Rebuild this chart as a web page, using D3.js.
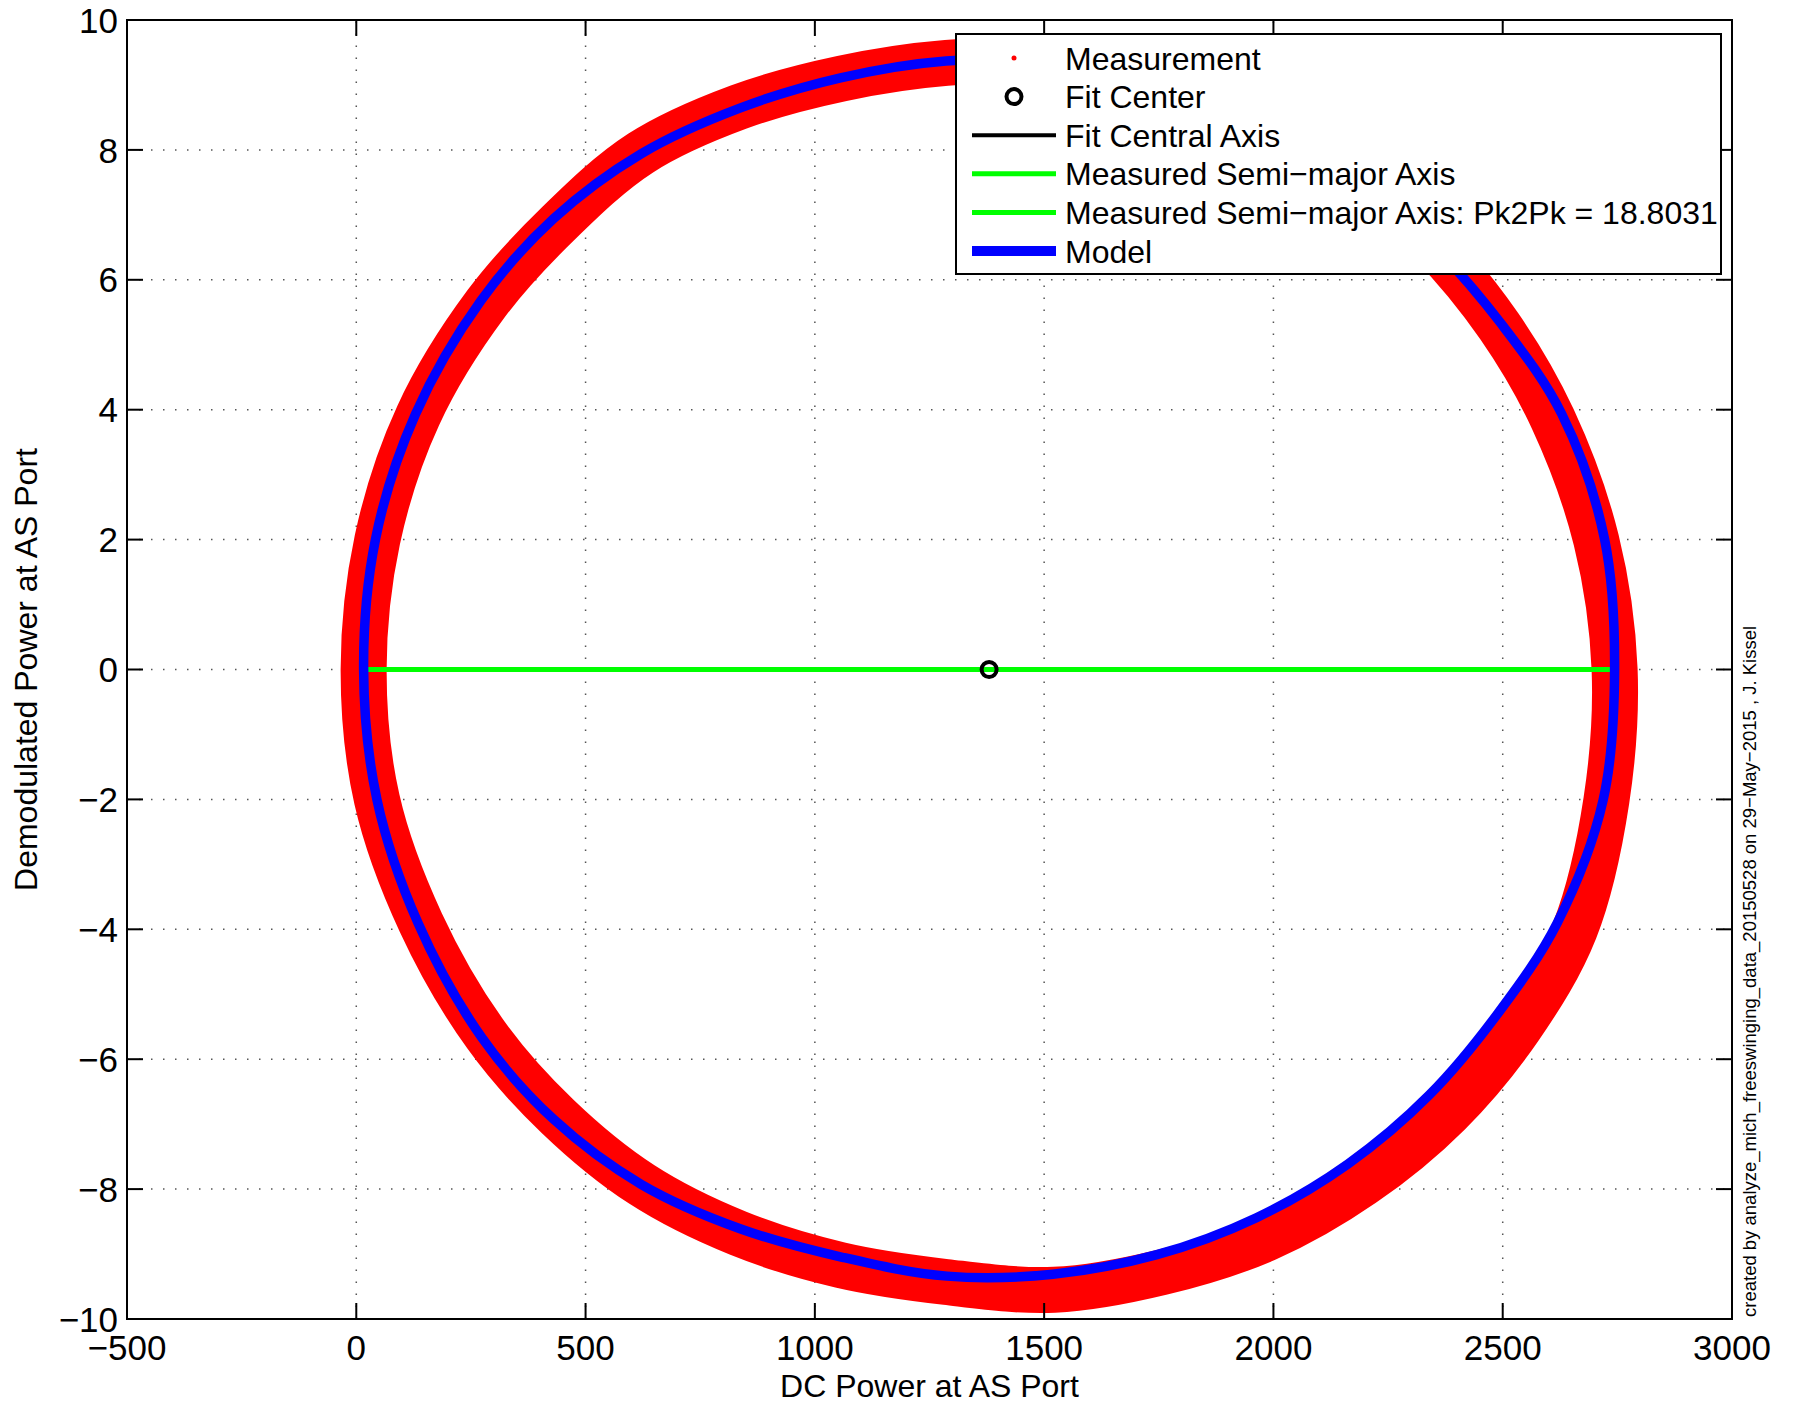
<!DOCTYPE html>
<html><head><meta charset="utf-8">
<script src="https://cdn.jsdelivr.net/npm/d3@7"></script>
<style>
html,body{margin:0;padding:0;background:#fff;}
svg text{font-family:"Liberation Sans",Arial,Helvetica,sans-serif;fill:#000;}
</style></head>
<body>
<svg id="chart" width="1799" height="1405"></svg>
<script>
// ---- data ----
const xTicks = [-500, 0, 500, 1000, 1500, 2000, 2500, 3000];
const yTicks = [-10, -8, -6, -4, -2, 0, 2, 4, 6, 8, 10];
const xLabel = "DC Power at AS Port";
const yLabel = "Demodulated Power at AS Port";
const note = "created by analyze_mich_freeswinging_data_20150528 on 29\u2212May\u22122015 , J. Kissel";
const legendLabels = ["Measurement", "Fit Center", "Fit Central Axis", "Measured Semi\u2212major Axis",
  "Measured Semi\u2212major Axis: Pk2Pk = 18.8031", "Model"];

// measurement band centre line (closed loop, starting at the right, going down and round)
const measX = [2744, 2726, 2657, 2537, 2382, 2195, 1985, 1757, 1522, 1286, 1056, 833, 623, 439, 283, 141, 45,
  16, 46, 135, 283, 441, 620, 834, 1059, 1287, 1519, 1748, 1965, 2166, 2343, 2492, 2609, 2704];
const measY = [0, -2.02, -4.01, -5.51, -6.83, -7.92, -8.76, -9.28, -9.55, -9.43, -9.17, -8.68, -7.93, -6.88, -5.63, -3.90, -2.00,
  0, 2.00, 3.91, 5.63, 6.87, 7.95, 8.66, 9.10, 9.34, 9.36, 9.06, 8.47, 7.64, 6.57, 5.29, 3.86, 1.99];

// model curve (closed loop, same direction)
const modelX = [2744, 2719, 2619, 2490, 2340, 2163, 1963, 1746, 1519, 1288, 1060, 837, 622, 431, 274, 135, 45,
  16, 42, 129, 272, 430, 621, 835, 1056, 1286, 1519, 1748, 1965, 2166, 2343, 2497, 2629, 2722];
const modelY = [0, -2.01, -3.90, -5.29, -6.55, -7.61, -8.44, -9.01, -9.31, -9.34, -9.05, -8.61, -7.93, -6.93, -5.67, -3.91, -2.00,
  0, 2.01, 3.93, 5.68, 6.94, 7.94, 8.64, 9.11, 9.37, 9.36, 9.06, 8.47, 7.64, 6.57, 5.32, 3.93, 2.01];

const fitCenter = [1380, 0];
const axisX = [16, 2744];   // semi-major axis end points
const axisY = [0, 0];

// ---- layout ----
const L = 127, R = 1732, T = 20, B = 1319;
const svg = d3.select("#chart");
const x = d3.scaleLinear().domain([-500, 3000]).range([L, R]);
const y = d3.scaleLinear().domain([-10, 10]).range([B, T]);
const fmt = v => (v < 0 ? "\u2212" + Math.abs(v) : String(v));

// grid
const grid = svg.append("g").attr("stroke", "#555").attr("stroke-width", 1.5)
  .attr("stroke-dasharray", "1.5,10.5");
xTicks.slice(1, -1).forEach(v => grid.append("line")
  .attr("x1", x(v)).attr("x2", x(v)).attr("y1", B).attr("y2", T));
yTicks.slice(1, -1).forEach(v => grid.append("line")
  .attr("x1", L).attr("x2", R).attr("y1", y(v)).attr("y2", y(v)));

// measurement band
const closed = d3.line().curve(d3.curveCatmullRomClosed.alpha(0.5));
const measPts = measX.map((v, i) => [x(v), y(measY[i])]);
svg.append("path").attr("d", closed(measPts)).attr("fill", "none")
  .attr("stroke", "#ff0000").attr("stroke-width", 46).attr("stroke-linejoin", "round");

// central axis + semi-major axis
svg.append("line").attr("x1", x(axisX[0])).attr("x2", x(axisX[1]))
  .attr("y1", y(axisY[0])).attr("y2", y(axisY[1])).attr("stroke", "#000").attr("stroke-width", 4);
svg.append("line").attr("x1", x(axisX[0])).attr("x2", x(axisX[1]))
  .attr("y1", y(axisY[0])).attr("y2", y(axisY[1])).attr("stroke", "#00ff00").attr("stroke-width", 5);

// model
const modelPts = modelX.map((v, i) => [x(v), y(modelY[i])]);
svg.append("path").attr("d", closed(modelPts)).attr("fill", "none")
  .attr("stroke", "#0000ff").attr("stroke-width", 9.5);

// fit centre
svg.append("circle").attr("cx", x(fitCenter[0])).attr("cy", y(fitCenter[1])).attr("r", 7.5)
  .attr("fill", "none").attr("stroke", "#000").attr("stroke-width", 4);

// axes box and ticks
const ax = svg.append("g").attr("stroke", "#000").attr("stroke-width", 2);
ax.append("rect").attr("x", L).attr("y", T).attr("width", R - L).attr("height", B - T).attr("fill", "none");
const tl = 16;
xTicks.forEach(v => {
  ax.append("line").attr("x1", x(v)).attr("x2", x(v)).attr("y1", B).attr("y2", B - tl);
  ax.append("line").attr("x1", x(v)).attr("x2", x(v)).attr("y1", T).attr("y2", T + tl);
});
yTicks.forEach(v => {
  ax.append("line").attr("x1", L).attr("x2", L + tl).attr("y1", y(v)).attr("y2", y(v));
  ax.append("line").attr("x1", R).attr("x2", R - tl).attr("y1", y(v)).attr("y2", y(v));
});

// tick labels
svg.append("g").selectAll("text").data(xTicks).join("text")
  .attr("x", d => x(d)).attr("y", B + 41).attr("text-anchor", "middle")
  .attr("font-size", 35).text(fmt);
svg.append("g").selectAll("text").data(yTicks).join("text")
  .attr("x", L - 9).attr("y", d => y(d)).attr("dy", "0.36em").attr("text-anchor", "end")
  .attr("font-size", 35).text(fmt);

// axis labels
svg.append("text").attr("x", (L + R) / 2).attr("y", 1397).attr("text-anchor", "middle")
  .attr("font-size", 32).text(xLabel);
svg.append("text").attr("transform", `translate(37,${(T + B) / 2}) rotate(-90)`)
  .attr("text-anchor", "middle").attr("font-size", 32).text(yLabel);

// side note
svg.append("text").attr("transform", `translate(1756,${B - 2}) rotate(-90)`)
  .attr("text-anchor", "start").attr("font-size", 18.5).text(note);

// legend
const lg = svg.append("g");
lg.append("rect").attr("x", 956).attr("y", 34).attr("width", 765).attr("height", 240)
  .attr("fill", "#fff").attr("stroke", "#000").attr("stroke-width", 2);
const rowY = i => 58 + i * 38.6;
legendLabels.forEach((t, i) => {
  lg.append("text").attr("x", 1065).attr("y", rowY(i)).attr("dy", "0.36em")
    .attr("font-size", 32).text(t);
});
lg.append("circle").attr("cx", 1014).attr("cy", rowY(0)).attr("r", 2.5).attr("fill", "#ff0000");
lg.append("circle").attr("cx", 1014).attr("cy", rowY(1)).attr("r", 7.5)
  .attr("fill", "none").attr("stroke", "#000").attr("stroke-width", 4);
const sample = (i, col, w) => lg.append("line").attr("x1", 972).attr("x2", 1056)
  .attr("y1", rowY(i)).attr("y2", rowY(i)).attr("stroke", col).attr("stroke-width", w);
sample(2, "#000", 4);
sample(3, "#00ff00", 5);
sample(4, "#00ff00", 5);
sample(5, "#0000ff", 10);
</script>
</body></html>
